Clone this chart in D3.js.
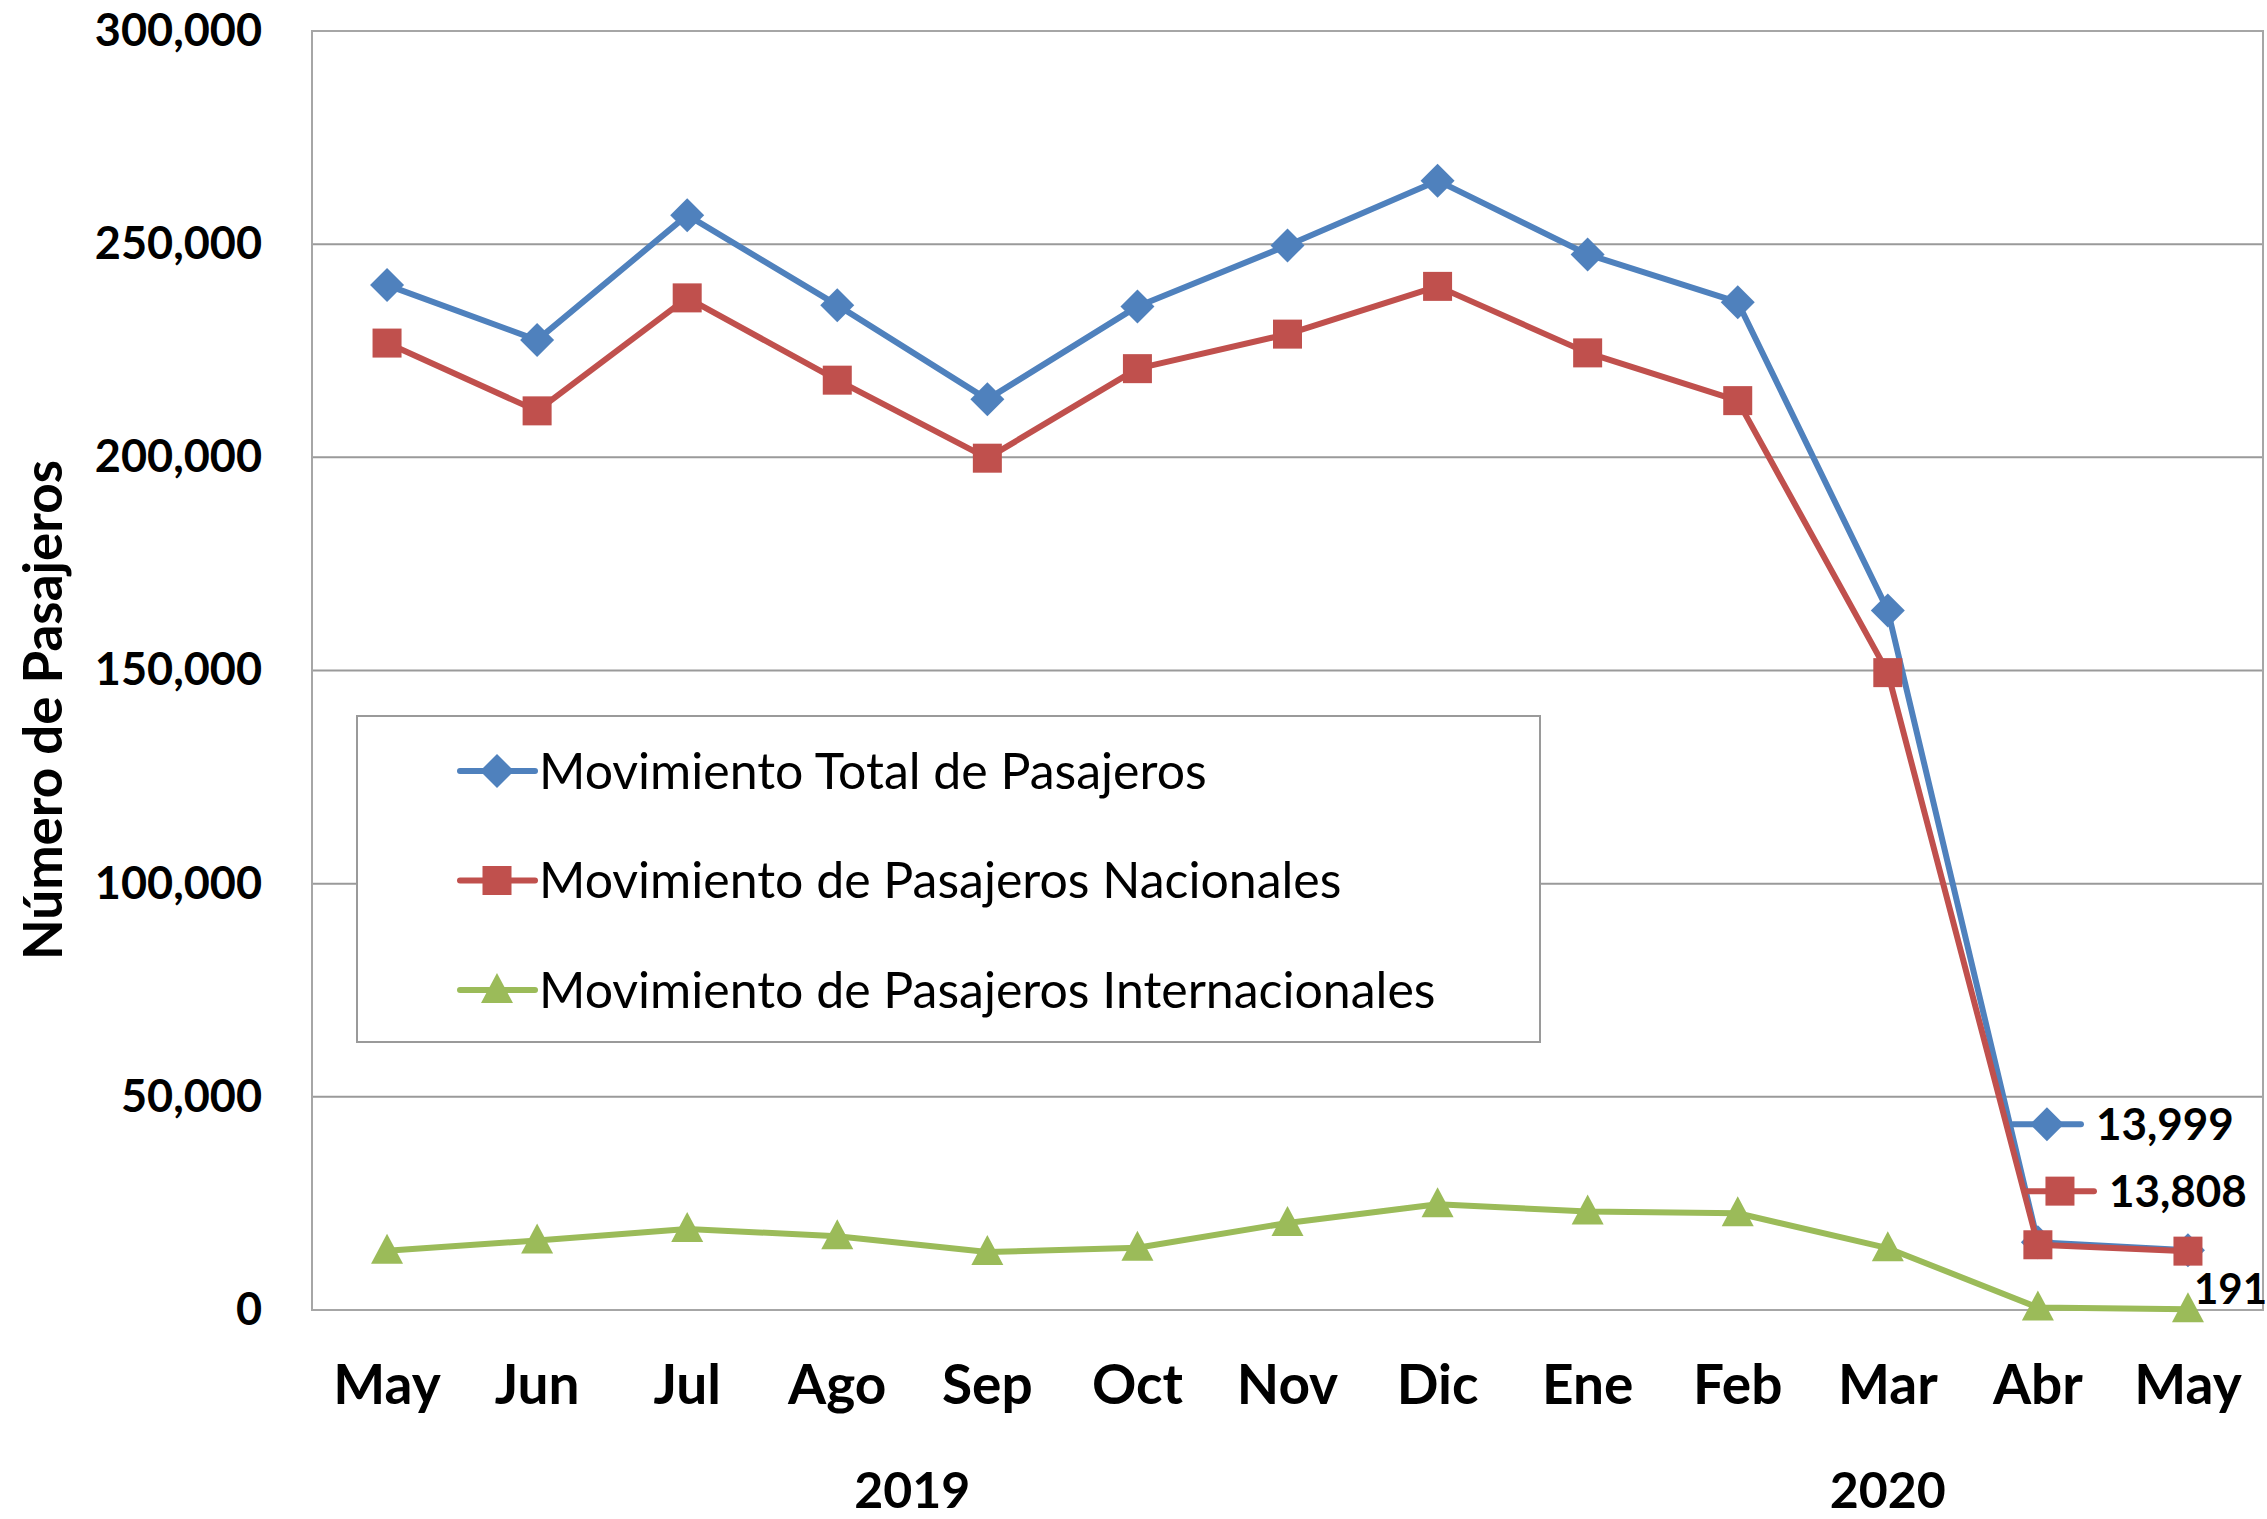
<!DOCTYPE html>
<html>
<head>
<meta charset="utf-8">
<script src="https://cdnjs.cloudflare.com/ajax/libs/d3/7.8.5/d3.min.js"></script>
<style>
  html, body { margin: 0; padding: 0; background: #fff; }
  svg { display: block; }
</style>
</head>
<body>
<div id="graph"></div>
<script>
// datos
var meses     = ["May", "Jun", "Jul", "Ago", "Sep", "Oct", "Nov", "Dic", "Ene", "Feb", "Mar", "Abr", "May"]
var anios     = [{"name": "2019", "from": 0, "to": 7}, {"name": "2020", "from": 8, "to": 12}]
var total     = [240400, 227500, 256800, 235700, 213600, 235400, 249700, 264900, 247600, 236400, 164100, 15900, 13999]
var nacional  = [226800, 210900, 237400, 218100, 199800, 220800, 228900, 240100, 224500, 213300, 149500, 15300, 13808]
var internac  = [13900, 16300, 19000, 17300, 13600, 14600, 20400, 24800, 23100, 22700, 14500, 600, 191]
var yTicks    = [0, 50000, 100000, 150000, 200000, 250000, 300000]
var nombres   = ["Movimiento Total de Pasajeros", "Movimiento de Pasajeros Nacionales", "Movimiento de Pasajeros Internacionales"]

var fuente = "Lato, Carlito, 'Open Sans', sans-serif"

var width  = 2267, height = 1519
var margin = {top: 31, left: 312, bottom: 209, right: 4}
var chartWidth  = width - margin.left - margin.right
var chartHeight = height - margin.top - margin.bottom

var svg = d3.select("#graph").append("svg")
            .attr("width", width)
            .attr("height", height)
            .attr("font-family", fuente)

var chartLayer = svg.append("g")
                    .attr("transform", "translate(" + [margin.left, margin.top] + ")")

var x = d3.scaleBand()
          .domain(d3.range(meses.length))
          .range([0, chartWidth])

var y = d3.scaleLinear()
          .domain([0, 300000])
          .range([chartHeight, 0])

var cx = function(i) { return x(i) + x.bandwidth() / 2 }

// grid + marco
chartLayer.selectAll(".grid")
          .data(yTicks)
          .enter().append("line")
          .attr("x1", 0).attr("x2", chartWidth)
          .attr("y1", function(d) { return y(d) }).attr("y2", function(d) { return y(d) })
          .attr("stroke", "#9a9a9a").attr("stroke-width", 2)

chartLayer.append("rect")
          .attr("width", chartWidth).attr("height", chartHeight)
          .attr("fill", "none").attr("stroke", "#a6a6a6").attr("stroke-width", 2)

// eje y
var yAxis = d3.axisLeft(y).tickValues(yTicks).tickFormat(d3.format(",")).tickSize(0).tickPadding(50)
var gy = chartLayer.append("g").call(yAxis).attr("font-family", fuente)
gy.select(".domain").remove()
gy.selectAll("text")
  .attr("font-size", "45px").attr("font-weight", "bold").attr("fill", "#000")

// eje x
var xAxis = d3.axisBottom(x).tickFormat(function(i) { return meses[i] }).tickSize(0).tickPadding(55)
var gx = chartLayer.append("g").attr("transform", "translate(0," + chartHeight + ")").call(xAxis).attr("font-family", fuente)
gx.select(".domain").remove()
gx.selectAll("text")
  .attr("font-size", "55px").attr("font-weight", "bold").attr("fill", "#000")

chartLayer.selectAll(".anio")
          .data(anios)
          .enter().append("text")
          .attr("x", function(d) { return (x(d.from) + x(d.to) + x.bandwidth()) / 2 })
          .attr("y", chartHeight + 180)
          .attr("dy", "0.35em")
          .attr("text-anchor", "middle")
          .attr("font-size", "50px").attr("font-weight", "bold")
          .text(function(d) { return d.name })

svg.append("text")
   .attr("transform", "translate(43," + (margin.top + 679) + ") rotate(-90)")
   .attr("dy", "0.35em")
   .attr("text-anchor", "middle")
   .attr("font-size", "53px").attr("font-weight", "bold")
   .text("Número de Pasajeros")

// marcadores
var marker = {
  diamond:  function(g) { g.append("path").attr("d", "M0,-17L17,0L0,17L-17,0Z") },
  square:   function(g) { g.append("rect").attr("x", -14.5).attr("y", -14.5).attr("width", 29).attr("height", 29) },
  triangle: function(g) { g.append("path").attr("d", "M0,-17L16,13L-16,13Z") }
}

var series = [
  {"name": nombres[0], "values": total,    "color": "#4f81bd", "shape": "diamond"},
  {"name": nombres[1], "values": nacional, "color": "#c0504d", "shape": "square"},
  {"name": nombres[2], "values": internac, "color": "#9bbb59", "shape": "triangle"}
]

// leyenda (va debajo de las lineas)
var legend = chartLayer.append("g").attr("transform", "translate(45,685)")
legend.append("rect")
      .attr("width", 1183).attr("height", 326)
      .attr("fill", "#fff").attr("stroke", "#9a9a9a").attr("stroke-width", 2)

var line = d3.line()
             .x(function(d, i) { return cx(i) })
             .y(function(d) { return y(d) })

var serieG = chartLayer.selectAll(".serie")
                       .data(series)
                       .enter().append("g")

serieG.append("path")
      .attr("d", function(d) { return line(d.values) })
      .attr("fill", "none")
      .attr("stroke", function(d) { return d.color })
      .attr("stroke-width", 6)
      .attr("stroke-linejoin", "round")

serieG.each(function(s) {
  var g = d3.select(this)
  s.values.forEach(function(v, i) {
    var m = g.append("g").attr("transform", "translate(" + [cx(i), y(v)] + ")").attr("fill", s.color)
    marker[s.shape](m)
  })
})

var item = legend.selectAll(".item")
                 .data(series)
                 .enter().append("g")
                 .attr("transform", function(d, i) { return "translate(0," + (55 + i * 109.5) + ")" })

item.append("line")
    .attr("x1", 103).attr("x2", 178)
    .attr("stroke", function(d) { return d.color }).attr("stroke-width", 6).attr("stroke-linecap", "round")
item.each(function(s) {
  var m = d3.select(this).append("g").attr("transform", "translate(140,0)").attr("fill", s.color)
  marker[s.shape](m)
})
item.append("text")
    .attr("x", 182).attr("dy", "0.35em")
    .attr("font-size", "50px")
    .text(function(d) { return d.name })

// etiquetas de datos del ultimo mes
var last = meses.length - 1
var etiquetas = [
  {"serie": series[0], "dx": -175, "dy": -126, "key": true,  "size": 44},
  {"serie": series[1], "dx": -162, "dy": -60,  "key": true,  "size": 44},
  {"serie": series[2], "dx": 6,    "dy": -20,  "key": false, "size": 42}
]
etiquetas.forEach(function(e) {
  var v = e.serie.values[last]
  var g = chartLayer.append("g").attr("transform", "translate(" + [cx(last) + e.dx, y(v) + e.dy] + ")")
  var tx = 0
  if (e.key) {
    g.append("line").attr("x1", 0).attr("x2", 68)
     .attr("stroke", e.serie.color).attr("stroke-width", 6).attr("stroke-linecap", "round")
    var m = g.append("g").attr("transform", "translate(34,0)").attr("fill", e.serie.color)
    marker[e.serie.shape](m)
    tx = 83
  }
  g.append("text")
   .attr("x", tx).attr("dy", "0.35em")
   .attr("font-size", e.size + "px").attr("font-weight", "bold")
   .text(d3.format(",")(v))
})
</script>
</body>
</html>
